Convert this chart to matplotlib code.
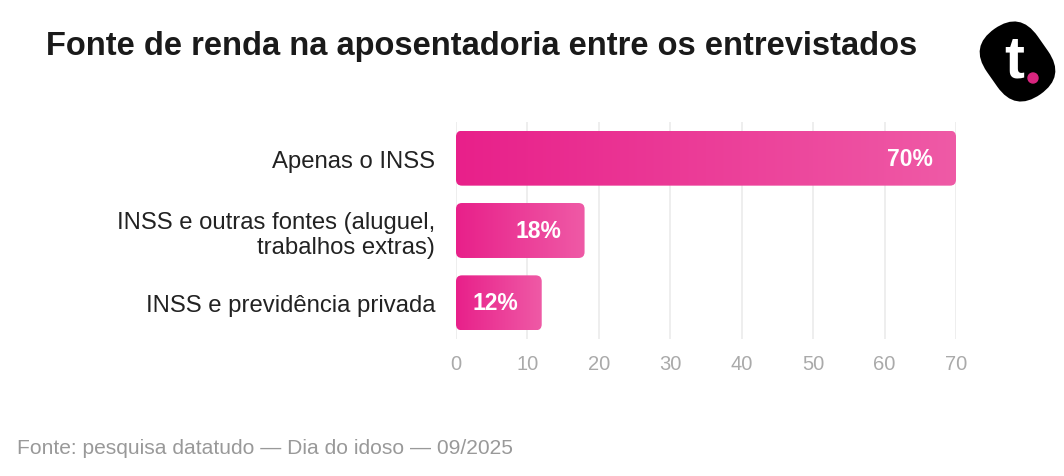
import numpy as np
import matplotlib.pyplot as plt
from matplotlib.patches import FancyBboxPatch, Circle
from matplotlib.colors import LinearSegmentedColormap
from matplotlib.transforms import Affine2D

categorias = ["Apenas o INSS", "INSS e outras fontes (aluguel,\ntrabalhos extras)", "INSS e previdência privada"]
valores = [70, 18, 12]
rotulos = ["70%", "18%", "12%"]
xticks = [0, 10, 20, 30, 40, 50, 60, 70]

plt.rcParams['font.family'] = ['Liberation Sans', 'DejaVu Sans']

W, H = 1064, 477
fig = plt.figure(figsize=(W / 100, H / 100), dpi=100)
fig.patch.set_facecolor('white')

ax = fig.add_axes([456 / W, (H - 340) / H, 500 / W, 217 / H])
cmap = LinearSegmentedColormap.from_list("rosa", ["#E8208A", "#EF5AA6"])

px_x = 500 / 70
px_y = 217 / 3
altura = 0.76
grad = np.linspace(0, 1, 256).reshape(1, -1)
for i, v in enumerate(valores):
    patch = FancyBboxPatch((0, i - altura / 2), v, altura,
                           boxstyle="round,pad=0,rounding_size=%f" % (6 / px_x),
                           mutation_aspect=px_x / px_y,
                           facecolor='none', edgecolor='none')
    ax.add_patch(patch)
    im = ax.imshow(grad, cmap=cmap, extent=[0, v, i + altura / 2, i - altura / 2],
                   aspect='auto', interpolation='bicubic', zorder=2)
    im.set_clip_path(patch)
    ax.annotate(rotulos[i], (v, i), xytext=(-17, 0), textcoords='offset points',
                ha='right', va='center', color='white', fontsize=16.5,
                fontweight='bold', zorder=3)

ax.set_xlim(0, 70)
ax.set_ylim(2.5, -0.5)
ax.set_xticks(xticks)
ax.set_yticks(range(len(categorias)))
ax.set_yticklabels(categorias, fontsize=17.2, color='#222222', ha='right',
                   linespacing=1.2)
ax.tick_params(axis='y', length=0, pad=15)
ax.tick_params(axis='x', length=0, pad=11, labelsize=14.5, labelcolor='#aaaaaa')
ax.grid(axis='x', color='#ebebeb', lw=1.2, zorder=0)
ax.set_axisbelow(True)
for s in ax.spines.values():
    s.set_visible(False)

fig.text(46 / W, (H - 46) / H, "Fonte de renda na aposentadoria entre os entrevistados",
         fontsize=23.5, fontweight='bold', color='#1a1a1a', va='center', ha='left')
fig.text(17 / W, (H - 449) / H, "Fonte: pesquisa datatudo — Dia do idoso — 09/2025",
         fontsize=15.1, color='#999999', va='center', ha='left')

# logo
lax = fig.add_axes([960 / W, (H - 110) / H, 100 / W, 100 / H])
lax.set_xlim(0, 100)
lax.set_ylim(0, 100)
lax.axis('off')
larg, comp = 62, 80
capsula = FancyBboxPatch((-larg / 2, -comp / 2), larg, comp,
                         boxstyle="round,pad=0,rounding_size=%f" % (larg / 2),
                         facecolor='black', edgecolor='none')
capsula.set_transform(Affine2D().rotate_deg(35).translate(57.5, 47.5) + lax.transData)
lax.add_patch(capsula)
lax.text(54, 48, "t", color='white', fontsize=43, fontweight='bold',
         ha='center', va='center')
lax.add_patch(Circle((73, 31), 5, color='#D9257F'))

fig.savefig("out.png", dpi=100)
